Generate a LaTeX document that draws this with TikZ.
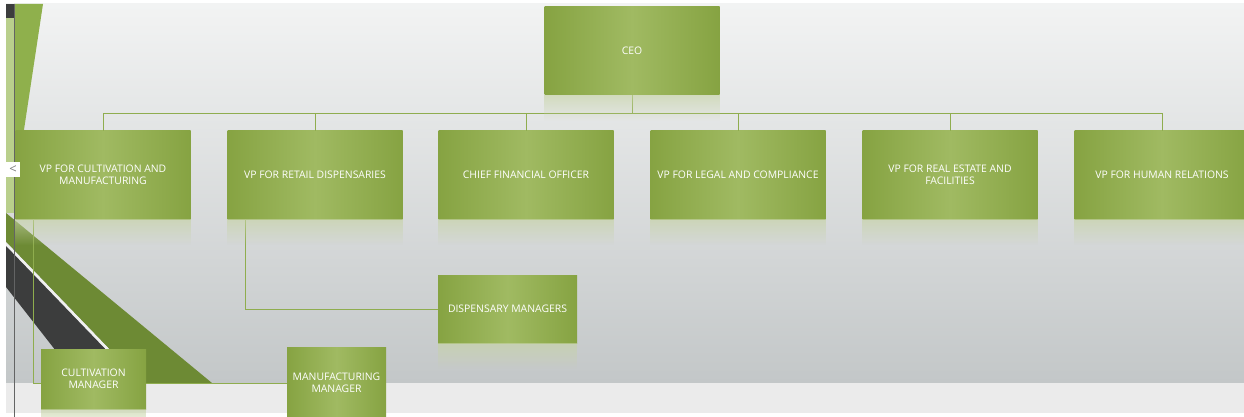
\documentclass[tikz,border=0pt]{standalone}
\usepackage{fontspec}
\setmainfont{Open Sans}
\usetikzlibrary{calc,fadings}
\definecolor{BoxDark}{HTML}{86A342}
\definecolor{BoxLight}{HTML}{A0BA62}
\definecolor{ConnGreen}{HTML}{8FAD4E}
\definecolor{BgTop}{HTML}{F2F3F3}
\definecolor{BgBot}{HTML}{C3C7C8}
\definecolor{BandGray}{HTML}{EBEBEB}
\definecolor{DecoGreen}{HTML}{8FB04C}
\definecolor{DecoPale}{HTML}{B9CF8C}
\definecolor{DecoDark}{HTML}{6D8A34}
\definecolor{DecoGray}{HTML}{3C3D3D}
\definecolor{ReflGreen}{HTML}{C6D3A6}
\tikzfading[name=reflfade,top color=transparent!35,bottom color=transparent!100]

\begin{document}
\begin{tikzpicture}[x=1pt,y=-1pt]
    \tikzset{orgbox/.style={shade,left color=BoxDark,right color=BoxDark,middle color=BoxLight,
      minimum width=175pt,minimum height=88pt,inner sep=2pt,align=center,text=white,
      font=\fontsize{10.4}{11.8}\selectfont},
      conn/.style={ConnGreen,line width=1pt},
      reflect/.style={ReflGreen,path fading=reflfade}}
    \useasboundingbox (0,0) rectangle (1244,417);
    % slide background
    \fill[white] (0,0) rectangle (1244,417);
    \shade[top color=BgTop,bottom color=BgBot] (6,4) rectangle (1244,383);
    \fill[BandGray] (6,383) rectangle (1244,413);
    % left decoration
    \fill[DecoPale] (6,18) rectangle (14,213);
    \fill[DecoGray] (6,4) rectangle (14,18);
    \fill[DecoGreen] (14,4) -- (43,4) -- (14,196) -- cycle;
    \fill[DecoDark] (6,213) -- (212,383) -- (142,383) -- (6,242) -- cycle;
    \fill[white!88!gray] (6,242) -- (142,383) -- (138,383) -- (6,246) -- cycle;
    \fill[DecoGray] (6,246) -- (138,383) -- (81,383) -- (6,287) -- cycle;
    % boxes
    \node[orgbox] (ceo) at (632,50.5) {CEO};
    \node[orgbox] (vp1) at (103,175) {VP FOR CULTIVATION AND\\MANUFACTURING};
    \node[orgbox] (vp2) at (315,175) {VP FOR RETAIL DISPENSARIES};
    \node[orgbox] (cfo) at (526,175) {CHIEF FINANCIAL OFFICER};
    \node[orgbox] (vp4) at (738,175) {VP FOR LEGAL AND COMPLIANCE};
    \node[orgbox] (vp5) at (950,175) {VP FOR REAL ESTATE AND\\FACILITIES};
    \node[orgbox] (vp6) at (1162,175) {VP FOR HUMAN RELATIONS};
    \node[orgbox,minimum width=139pt,minimum height=68pt] (disp) at (507.5,309) {DISPENSARY MANAGERS};
    % connectors
    \coordinate (bus) at (632,114);
    \draw[conn] (ceo.south) -- (bus);
    \foreach \b in {vp1,vp2,cfo,vp4,vp5,vp6}
      \draw[conn] (bus) -| (\b.north);
    \draw[conn] ($(vp2.south west)+(18,0)$) |- (disp.west);
    \node[orgbox,minimum width=99pt,minimum height=72pt] (mfg) at (336.5,383) {MANUFACTURING\\MANAGER};
    \draw[conn] ($(vp1.south west)+(18,0)$) |- (mfg.west);
    \node[orgbox,minimum width=105pt,minimum height=60pt] (cult) at (93.5,379) {CULTIVATION\\MANAGER};
    % reflections
    \foreach \b in {ceo,vp1,vp2,cfo,vp4,vp5,vp6,disp,cult}
      \fill[reflect] (\b.south west) rectangle ($(\b.south east)+(0,26)$);
    % slide edge and nav button
    \draw[DecoGray!80,line width=1pt] (14,4) -- (14,417);
    \node[fill=white,text=gray,minimum width=14pt,minimum height=15pt,inner sep=0pt,
      font=\fontsize{13}{13}\selectfont] (prev) at (13,169.5) {\textless};
\end{tikzpicture}
\end{document}
